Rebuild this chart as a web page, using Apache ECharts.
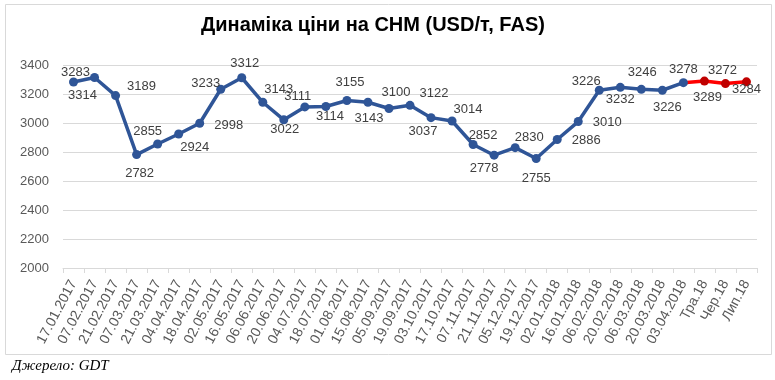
<!DOCTYPE html>
<html>
<head>
<meta charset="utf-8">
<script src="https://cdn.jsdelivr.net/npm/echarts@6/dist/echarts.min.js"></script>
<style>
html,body{margin:0;padding:0;background:#fff;}
#c{width:775px;height:380px;}
</style>
</head>
<body>
<div id="c"></div>
<script>
var title = 'Динаміка ціни на СНМ (USD/т, FAS)';
var source = 'Джерело: GDT';
var categories = ['17.01.2017','07.02.2017','21.02.2017','07.03.2017','21.03.2017','04.04.2017','18.04.2017','02.05.2017','16.05.2017','06.06.2017','20.06.2017','04.07.2017','18.07.2017','01.08.2017','15.08.2017','05.09.2017','19.09.2017','03.10.2017','17.10.2017','07.11.2017','21.11.2017','05.12.2017','19.12.2017','02.01.2018','16.01.2018','06.02.2018','20.02.2018','06.03.2018','20.03.2018','03.04.2018','Тра.18','Чер.18','Лип.18'];
var actualValues = [3283,3314,3189,2782,2855,2924,2998,3233,3312,3143,3022,3111,3114,3155,3143,3100,3122,3037,3014,2852,2778,2830,2755,2886,3010,3226,3246,3232,3226,3278];
var forecastValues = [3289,3272,3284];
var yTicks = {min:2000, max:3400, interval:200};
// label offsets (style only), relative to each point
var actualLabelOffsets = [[2,-10],[-12,18],[26,-9],[3,19],[-10,-13],[16,13],[29,2],[-15,-6],[3,-14],[16,-13],[1,10],[-7,-10],[4,10],[3,-18],[1,16],[7,-16],[24,-12],[-8,14],[16,-12],[10,-9],[-10,13],[14,-10],[0,20],[29,1],[29,1],[-13,-9],[22,-15],[-21,10],[5,17],[0,-13]];
var forecastLabelOffsets = [[3,16],[-3,-13],[0,8]];

var blueData = actualValues.map(function(v,i){
  return {value:v, label:{offset:actualLabelOffsets[i]}};
});
var redData = [];
for (var i=0;i<actualValues.length-1;i++) redData.push(null);
redData.push({value:actualValues[actualValues.length-1], symbol:'none', label:{show:false}});
forecastValues.forEach(function(v,i){
  redData.push({value:v, label:{offset:forecastLabelOffsets[i]}});
});

var labelBase = {
  show:true, position:'inside', align:'center', verticalAlign:'middle',
  fontFamily:'Liberation Sans', fontSize:13, color:'#404040', formatter:'{c}'
};

var chart = echarts.init(document.getElementById('c'), null, {renderer:'canvas'});
chart.setOption({
  backgroundColor:'#fff',
  animation:false,
  title:{
    text:title, left:368, top:10, textAlign:'center',
    textStyle:{fontFamily:'Liberation Sans', fontWeight:'bold', fontSize:20, color:'#000'}
  },
  graphic:[
    {type:'rect', shape:{x:5.5,y:4.5,width:766,height:350}, style:{fill:'none', stroke:'#d9d9d9', lineWidth:1}, z:-1},
    {type:'text', left:12, top:359, style:{text:source, font:'italic 15px "Liberation Serif"', fill:'#000'}}
  ],
  grid:{left:63, right:18, top:65, bottom:112, containLabel:false},
  xAxis:{
    type:'category', data:categories, boundaryGap:true,
    axisLine:{lineStyle:{color:'#d9d9d9'}},
    axisTick:{show:true, alignWithLabel:false, length:5, lineStyle:{color:'#d9d9d9'}},
    axisLabel:{interval:0, rotate:62, margin:13, fontFamily:'Liberation Sans', fontSize:14, color:'#595959'}
  },
  yAxis:{
    type:'value', min:yTicks.min, max:yTicks.max, interval:yTicks.interval,
    axisLine:{show:false}, axisTick:{show:false},
    splitLine:{lineStyle:{color:'#d9d9d9'}},
    axisLabel:{margin:14, fontFamily:'Liberation Sans', fontSize:13, color:'#595959', formatter:function(v){return String(v);}}
  },
  series:[
    {
      type:'line', data:redData, z:2, connectNulls:false,
      symbol:'circle', symbolSize:9,
      lineStyle:{color:'#ff0000', width:3.5},
      itemStyle:{color:'#c00000'},
      label:labelBase
    },
    {
      type:'line', data:blueData, z:3,
      symbol:'circle', symbolSize:9,
      lineStyle:{color:'#2f5597', width:3.5},
      itemStyle:{color:'#2f5597'},
      label:labelBase
    }
  ]
});
</script>
</body>
</html>
